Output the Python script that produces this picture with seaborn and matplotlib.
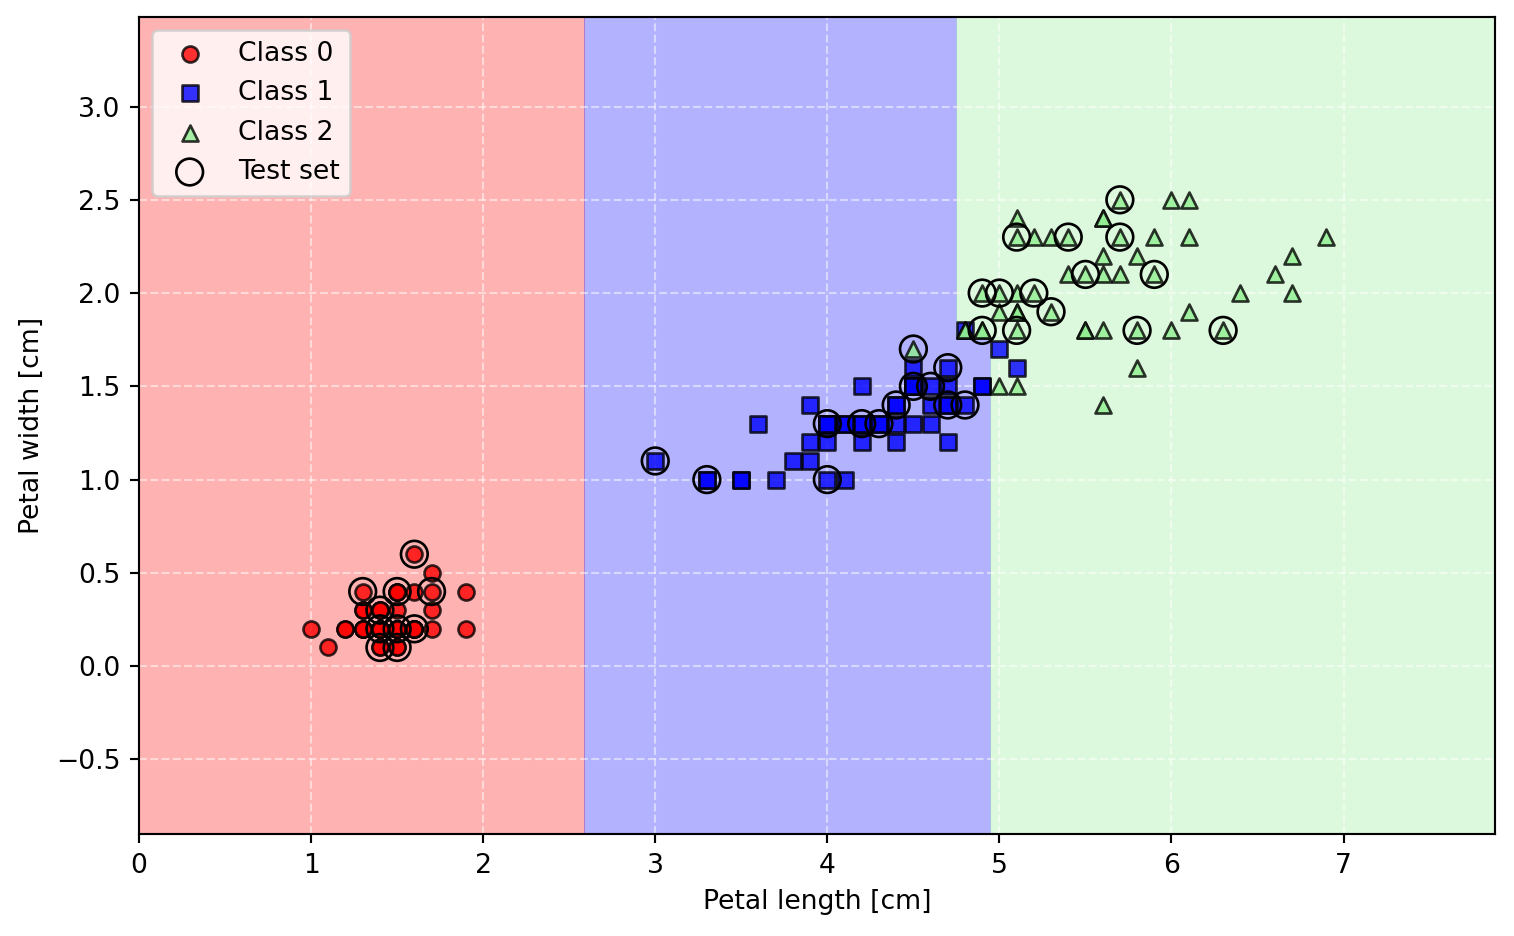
import numpy as np
import pandas as pd
import matplotlib
matplotlib.use("Agg")
import matplotlib.pyplot as plt
from matplotlib.colors import ListedColormap
import seaborn as sns

# petal length / width per class (cm)
len_0 = [1.4, 1.4, 1.3, 1.5, 1.4, 1.7, 1.4, 1.5, 1.4, 1.5, 1.5, 1.6, 1.4, 1.1, 1.2, 1.5, 1.3,
         1.4, 1.7, 1.5, 1.7, 1.5, 1.0, 1.7, 1.9, 1.6, 1.6, 1.5, 1.4, 1.6, 1.6, 1.5, 1.5, 1.4,
         1.5, 1.2, 1.3, 1.4, 1.3, 1.5, 1.3, 1.3, 1.3, 1.6, 1.9, 1.4, 1.6, 1.4, 1.5, 1.4]
wid_0 = [0.2, 0.2, 0.2, 0.2, 0.2, 0.4, 0.3, 0.2, 0.2, 0.1, 0.2, 0.2, 0.1, 0.1, 0.2, 0.4, 0.4,
         0.3, 0.3, 0.3, 0.2, 0.4, 0.2, 0.5, 0.2, 0.2, 0.4, 0.2, 0.2, 0.2, 0.2, 0.4, 0.1, 0.2,
         0.2, 0.2, 0.2, 0.1, 0.2, 0.2, 0.3, 0.3, 0.2, 0.6, 0.4, 0.3, 0.2, 0.2, 0.2, 0.2]
len_1 = [4.7, 4.5, 4.9, 4.0, 4.6, 4.5, 4.7, 3.3, 4.6, 3.9, 3.5, 4.2, 4.0, 4.7, 3.6, 4.4, 4.5,
         4.1, 4.5, 3.9, 4.8, 4.0, 4.9, 4.7, 4.3, 4.4, 4.8, 5.0, 4.5, 3.5, 3.8, 3.7, 3.9, 5.1,
         4.5, 4.5, 4.7, 4.4, 4.1, 4.0, 4.4, 4.6, 4.0, 3.3, 4.2, 4.2, 4.2, 4.3, 3.0, 4.1]
wid_1 = [1.4, 1.5, 1.5, 1.3, 1.5, 1.3, 1.6, 1.0, 1.3, 1.4, 1.0, 1.5, 1.0, 1.4, 1.3, 1.4, 1.5,
         1.0, 1.5, 1.1, 1.8, 1.3, 1.5, 1.2, 1.3, 1.4, 1.4, 1.7, 1.5, 1.0, 1.1, 1.0, 1.2, 1.6,
         1.5, 1.6, 1.5, 1.3, 1.3, 1.3, 1.2, 1.4, 1.2, 1.0, 1.3, 1.2, 1.3, 1.3, 1.1, 1.3]
len_2 = [6.0, 5.1, 5.9, 5.6, 5.8, 6.6, 4.5, 6.3, 5.8, 6.1, 5.1, 5.3, 5.5, 5.0, 5.1, 5.3, 5.5,
         6.7, 6.9, 5.0, 5.7, 4.9, 6.7, 4.9, 5.7, 6.0, 4.8, 4.9, 5.6, 5.8, 6.1, 6.4, 5.6, 5.1,
         5.6, 6.1, 5.6, 5.5, 4.8, 5.4, 5.6, 5.1, 5.1, 5.9, 5.7, 5.2, 5.0, 5.2, 5.4, 5.1]
wid_2 = [2.5, 1.9, 2.1, 1.8, 2.2, 2.1, 1.7, 1.8, 1.8, 2.5, 2.0, 1.9, 2.1, 2.0, 2.4, 2.3, 1.8,
         2.2, 2.3, 1.5, 2.3, 2.0, 2.0, 1.8, 2.1, 1.8, 1.8, 1.8, 2.1, 1.6, 1.9, 2.0, 2.2, 1.5,
         1.4, 2.3, 2.4, 1.8, 1.8, 2.1, 2.4, 2.3, 1.9, 2.3, 2.5, 2.3, 1.9, 2.0, 2.3, 1.8]

# circled test samples
test_len = [1.3, 1.5, 1.7, 1.6, 1.4, 1.4, 1.5, 1.6, 1.4, 1.5,
            3.0, 3.3, 4.0, 4.0, 4.2, 4.3, 4.4, 4.5, 4.6, 4.7, 4.8, 4.7,
            5.7, 5.1, 5.4, 5.7, 5.5, 5.9, 4.9, 5.0, 5.2, 5.3, 4.9, 5.1, 5.8, 6.3, 4.5]
test_wid = [0.4, 0.4, 0.4, 0.6, 0.3, 0.2, 0.2, 0.2, 0.1, 0.1,
            1.1, 1.0, 1.0, 1.3, 1.3, 1.3, 1.4, 1.5, 1.5, 1.4, 1.4, 1.6,
            2.5, 2.3, 2.3, 2.3, 2.1, 2.1, 2.0, 2.0, 2.0, 1.9, 1.8, 1.8, 1.8, 1.8, 1.7]

# decision tree splits
split_len_a = 2.6
split_len_b = 4.75
split_len_c = 4.95
split_wid = 1.75

colors = ["red", "blue", "lightgreen"]
markers = ["o", "s", "^"]


def predict(pl, pw):
    out = np.full(pl.shape, 2)
    out[pl < split_len_a] = 0
    out[(pl >= split_len_a) & (pl < split_len_b)] = 1
    out[(pl >= split_len_b) & (pl < split_len_c) & (pw < split_wid)] = 1
    return out


df = pd.concat([
    pd.DataFrame({"length": len_0, "width": wid_0, "cls": 0}),
    pd.DataFrame({"length": len_1, "width": wid_1, "cls": 1}),
    pd.DataFrame({"length": len_2, "width": wid_2, "cls": 2}),
])

dpi = 192
fig = plt.figure(figsize=(1514 / dpi, 936 / dpi), dpi=dpi)
ax = fig.add_axes([139 / 1514, 1 - 834 / 936, (1495 - 139) / 1514, (834 - 17) / 936])

x_min, x_max = df["length"].min() - 1, df["length"].max() + 1
y_min, y_max = df["width"].min() - 1, df["width"].max() + 1
xx, yy = np.meshgrid(np.arange(x_min, x_max, 0.02), np.arange(y_min, y_max, 0.02))
zz = predict(xx, yy)
ax.contourf(xx, yy, zz, alpha=0.3, cmap=ListedColormap(colors), levels=[-0.5, 0.5, 1.5, 2.5])
ax.set_xlim(xx.min(), xx.max())
ax.set_ylim(yy.min(), yy.max())

for cl in range(3):
    sub = df[df["cls"] == cl]
    sns.scatterplot(data=sub, x="length", y="width", ax=ax, color=colors[cl],
                    marker=markers[cl], alpha=0.8, edgecolor="black", linewidth=1,
                    s=36, label=f"Class {cl}", zorder=3)

ax.scatter(test_len, test_wid, facecolor="none", edgecolor="black", alpha=1.0,
           linewidth=1, marker="o", s=100, label="Test set", zorder=4)

ax.grid(True, linestyle="--", color="white", alpha=0.5)
for ln in ax.get_xgridlines() + ax.get_ygridlines():
    ln.set_zorder(1.5)

ax.set_xlabel("Petal length [cm]")
ax.set_ylabel("Petal width [cm]")
ax.legend(loc="upper left")

fig.savefig("out.png", dpi=dpi)
